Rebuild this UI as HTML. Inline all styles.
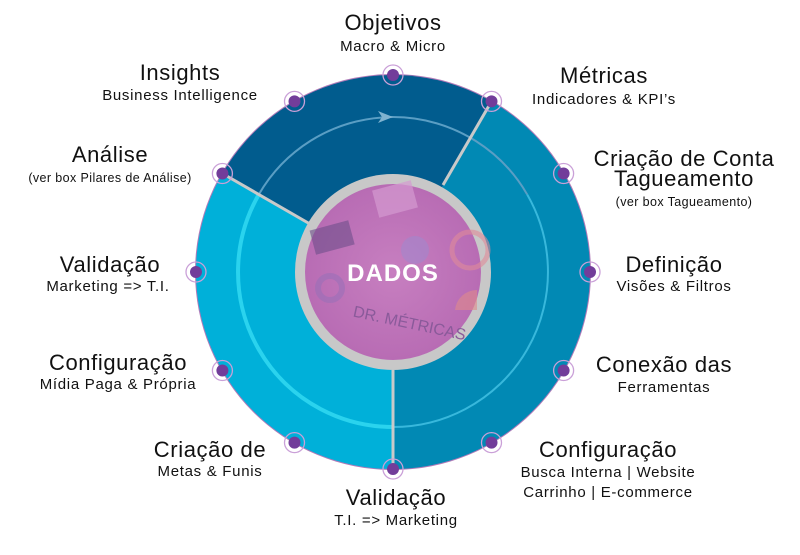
<!DOCTYPE html>
<html><head><meta charset="utf-8"><style>
body{margin:0;background:#fff;width:800px;height:550px;overflow:hidden}
svg text{font-family:"Liberation Sans",sans-serif;fill:#111}
.t{font-size:22px;letter-spacing:0.6px}.s{font-size:15px;letter-spacing:0.7px}.x{font-size:12.5px;letter-spacing:0.4px}
</style></head><body>
<svg width="800" height="550" viewBox="0 0 800 550" xmlns="http://www.w3.org/2000/svg">
<defs>
<radialGradient id="pg" cx="50%" cy="50%" r="50%"><stop offset="0" stop-color="#c77fc0"/><stop offset="1" stop-color="#b86cb4"/></radialGradient>
</defs>
<circle cx="393" cy="272" r="198" fill="#b07ab8"/>
<path d="M393 272 L222.4 173.5 A197 197 0 0 1 491.5 101.4 Z" fill="#015c8e"/>
<path d="M393 272 L491.5 101.4 A197 197 0 0 1 393 469 Z" fill="#0189b4"/>
<path d="M393 272 L393 469 A197 197 0 0 1 222.4 173.5 Z" fill="#00b0d9"/>
<path d="M393 427 A155 155 0 0 1 258.8 194.5" fill="none" stroke="#2ad3ee" stroke-width="4"/>
<path d="M258.8 194.5 A155 155 0 0 1 527.2 194.5" fill="none" stroke="#5a9ec4" stroke-width="2"/>
<path d="M527.2 194.5 A155 155 0 0 1 393 427" fill="none" stroke="#38b8dc" stroke-width="2"/>
<polygon points="378,111 393,117 378,123 382,117" fill="#7fb3d0"/>
<line x1="222.4" y1="173.5" x2="310" y2="224" stroke="#c9c9c9" stroke-width="3"/>
<line x1="491.5" y1="101.4" x2="443" y2="185" stroke="#c9c9c9" stroke-width="3"/>
<line x1="393" y1="469" x2="393" y2="370" stroke="#c9c9c9" stroke-width="3"/>
<circle cx="393" cy="272" r="98" fill="#c8c8c8"/>
<circle cx="393" cy="272" r="88" fill="url(#pg)"/>
<rect x="375" y="185" width="40" height="28" fill="#d49ad0" opacity=".7" transform="rotate(-15 395 199)"/>
<circle cx="470" cy="250" r="18" fill="none" stroke="#e08a9a" stroke-width="5" opacity=".6"/>
<rect x="312" y="225" width="40" height="25" fill="#6e4e8a" opacity=".6" transform="rotate(-15 332 237)"/>
<circle cx="330" cy="288" r="12" fill="none" stroke="#9a6fb8" stroke-width="6" opacity=".6"/>
<circle cx="415" cy="250" r="14" fill="#9c8ad0" opacity=".5"/>
<path d="M455 310 A22 22 0 0 1 477 290 L477 310 Z" fill="#e08a8a" opacity=".6"/>
<text x="350" y="325" style="fill:#8a5a9a;font-size:16px" transform="rotate(12 392 332)">DR. MÉTRICAS</text>
<text x="393" y="281" text-anchor="middle" style="fill:#fff;font-size:24px;font-weight:bold;letter-spacing:1px">DADOS</text>
<g>
<circle cx="393" cy="75" r="10" fill="none" stroke="#caa0d8" stroke-width="1.3"/><circle cx="393" cy="75" r="6" fill="#723d9a"/>
<circle cx="491.5" cy="101.4" r="10" fill="none" stroke="#caa0d8" stroke-width="1.3"/><circle cx="491.5" cy="101.4" r="6" fill="#723d9a"/>
<circle cx="563.6" cy="173.5" r="10" fill="none" stroke="#caa0d8" stroke-width="1.3"/><circle cx="563.6" cy="173.5" r="6" fill="#723d9a"/>
<circle cx="590" cy="272" r="10" fill="none" stroke="#caa0d8" stroke-width="1.3"/><circle cx="590" cy="272" r="6" fill="#723d9a"/>
<circle cx="563.6" cy="370.5" r="10" fill="none" stroke="#caa0d8" stroke-width="1.3"/><circle cx="563.6" cy="370.5" r="6" fill="#723d9a"/>
<circle cx="491.5" cy="442.6" r="10" fill="none" stroke="#caa0d8" stroke-width="1.3"/><circle cx="491.5" cy="442.6" r="6" fill="#723d9a"/>
<circle cx="393" cy="469" r="10" fill="none" stroke="#caa0d8" stroke-width="1.3"/><circle cx="393" cy="469" r="6" fill="#723d9a"/>
<circle cx="294.5" cy="442.6" r="10" fill="none" stroke="#caa0d8" stroke-width="1.3"/><circle cx="294.5" cy="442.6" r="6" fill="#723d9a"/>
<circle cx="222.4" cy="370.5" r="10" fill="none" stroke="#caa0d8" stroke-width="1.3"/><circle cx="222.4" cy="370.5" r="6" fill="#723d9a"/>
<circle cx="196" cy="272" r="10" fill="none" stroke="#caa0d8" stroke-width="1.3"/><circle cx="196" cy="272" r="6" fill="#723d9a"/>
<circle cx="222.4" cy="173.5" r="10" fill="none" stroke="#caa0d8" stroke-width="1.3"/><circle cx="222.4" cy="173.5" r="6" fill="#723d9a"/>
<circle cx="294.5" cy="101.4" r="10" fill="none" stroke="#caa0d8" stroke-width="1.3"/><circle cx="294.5" cy="101.4" r="6" fill="#723d9a"/>
</g>
<g text-anchor="middle">
<text class="t" x="393" y="30">Objetivos</text><text class="s" x="393" y="51">Macro &amp; Micro</text>
<text class="t" x="180" y="80">Insights</text><text class="s" x="180" y="100">Business Intelligence</text>
<text class="t" x="110" y="162">Análise</text><text class="x" x="110" y="182">(ver box Pilares de Análise)</text>
<text class="t" x="110" y="272">Validação</text><text class="s" x="108" y="291">Marketing =&gt; T.I.</text>
<text class="t" x="118" y="370">Configuração</text><text class="s" x="118" y="389">Mídia Paga &amp; Própria</text>
<text class="t" x="210" y="457">Criação de</text><text class="s" x="210" y="476">Metas &amp; Funis</text>
<text class="t" x="396" y="505">Validação</text><text class="s" x="396" y="525">T.I. =&gt; Marketing</text>
<text class="t" x="604" y="83">Métricas</text><text class="s" x="604" y="104">Indicadores &amp; KPI’s</text>
<text class="t" x="684" y="166">Criação de Conta</text><text class="t" x="684" y="186">Tagueamento</text><text class="x" x="684" y="206">(ver box Tagueamento)</text>
<text class="t" x="674" y="272">Definição</text><text class="s" x="674" y="291">Visões &amp; Filtros</text>
<text class="t" x="664" y="372">Conexão das</text><text class="s" x="664" y="392">Ferramentas</text>
<text class="t" x="608" y="457">Configuração</text><text class="s" x="608" y="477">Busca Interna | Website</text><text class="s" x="608" y="497">Carrinho | E-commerce</text>
</g>
</svg>
</body></html>
